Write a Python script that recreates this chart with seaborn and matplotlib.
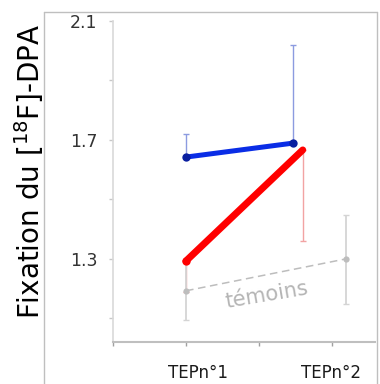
import numpy as np
import pandas as pd
import seaborn as sns
import matplotlib.pyplot as plt
from matplotlib.lines import Line2D

# %% data
blue_x = [1.0, 2.47]
blue_y = [1.642, 1.689]
blue_err_hi = [1.720, 2.018]

red_x = [1.0, 2.60]
red_y = [1.293, 1.666]
red_err_lo = [1.19, 1.360]

grey_x = [1.0, 3.19]
grey_y = [1.193, 1.300]
grey_err_lo = [1.095, 1.149]
grey_err_hi = [1.29, 1.448]

ytick_vals = [1.1, 1.3, 1.5, 1.7, 1.9, 2.1]
ytick_labels = ["", "1.3", "", "1.7", "", "2.1"]
xtick_vals = [0, 1, 2, 3]
session_labels = ["TEPn°1", "TEPn°2"]
session_pos = [1.16, 2.99]

df = pd.DataFrame({
    "x": blue_x + red_x + grey_x,
    "y": blue_y + red_y + grey_y,
    "serie": ["bleu"] * 2 + ["rouge"] * 2 + ["témoins"] * 2,
})

# %%
sns.set_style("white")
plt.rcParams["font.family"] = ["DejaVu Sans"]

fig = plt.figure(figsize=(3.8, 3.84), dpi=100)
ax = fig.add_axes([113/380, 1-342/384, 262/380, (342-20.7)/384])

# error bars first so lines sit on top
ax.errorbar(blue_x, blue_y, yerr=[[0, 0], np.array(blue_err_hi)-np.array(blue_y)],
            fmt="none", ecolor="#8c9be0", elinewidth=1, capsize=2.5, capthick=1, zorder=1)
ax.errorbar(red_x, red_y, yerr=[np.array(red_y)-np.array(red_err_lo), [0, 0]],
            fmt="none", ecolor="#f2a3a3", elinewidth=1, capsize=2.5, capthick=1, zorder=1)
ax.errorbar(grey_x, grey_y, yerr=[np.array(grey_y)-np.array(grey_err_lo), np.array(grey_err_hi)-np.array(grey_y)],
            fmt="none", ecolor="#d4d4d4", elinewidth=1.3, capsize=2.5, capthick=1, zorder=1)

sns.lineplot(data=df[df.serie == "témoins"], x="x", y="y", ax=ax, color="#bdbdbd", lw=1.1,
             linestyle=(0, (5, 3)), marker="o", markersize=4.5, markeredgewidth=0,
             sort=False, estimator=None, zorder=2)
sns.lineplot(data=df[df.serie == "rouge"], x="x", y="y", ax=ax, color="#ff0000", lw=5,
             marker="o", markersize=6, markeredgewidth=0, markevery=[0],
             sort=False, estimator=None, zorder=3)
sns.lineplot(data=df[df.serie == "bleu"], x="x", y="y", ax=ax, color="#0a2de6", lw=3.6,
             marker="o", markersize=6, markeredgewidth=0, markerfacecolor="#0a1fa0",
             sort=False, estimator=None, zorder=4)

ax.text(2.11, 1.179, "témoins", color="#b5b5b5", fontsize=15, rotation=9.5,
        ha="center", va="center")

ax.set_xlim(0, 3.59)
ax.set_ylim(1.021, 2.1)
ax.set_xticks(xtick_vals)
ax.set_xticklabels([])
ax.set_yticks(ytick_vals)
ax.set_yticklabels(ytick_labels, fontsize=12.5, color="#333333")
ax.tick_params(axis="y", length=3, width=1, color="#c8c8c8", pad=8, left=True)
ax.tick_params(axis="x", length=3, width=1, color="#a0a0a0", bottom=True)
ax.set_xlabel("")
ax.set_ylabel("Fixation du [$^{18}$F]-DPA", fontsize=20, color="black")
ax.yaxis.set_label_coords(-0.255, 0.53)

for s in ["top", "right"]:
    ax.spines[s].set_visible(False)
ax.spines["left"].set_color("#d9d9d9")
ax.spines["left"].set_linewidth(1.2)
ax.spines["bottom"].set_color("#bfbfbf")
ax.spines["bottom"].set_linewidth(1.5)

for lab, xp in zip(session_labels, session_pos):
    ax.text(xp, -0.095, lab, transform=ax.get_xaxis_transform(), ha="center", va="center",
            fontsize=12, color="#1a1a1a")

# light frame around the picture
fx0, fx1, fy1 = 44/380, 376.7/380, 1-12/384
for xs, ys in [([fx0, fx0], [0, fy1]), ([fx0, fx1], [fy1, fy1]), ([fx1, fx1], [fy1, 0])]:
    fig.add_artist(Line2D(xs, ys, color="#bfbfbf", lw=1, transform=fig.transFigure))

plt.savefig("out.png", dpi=100)
